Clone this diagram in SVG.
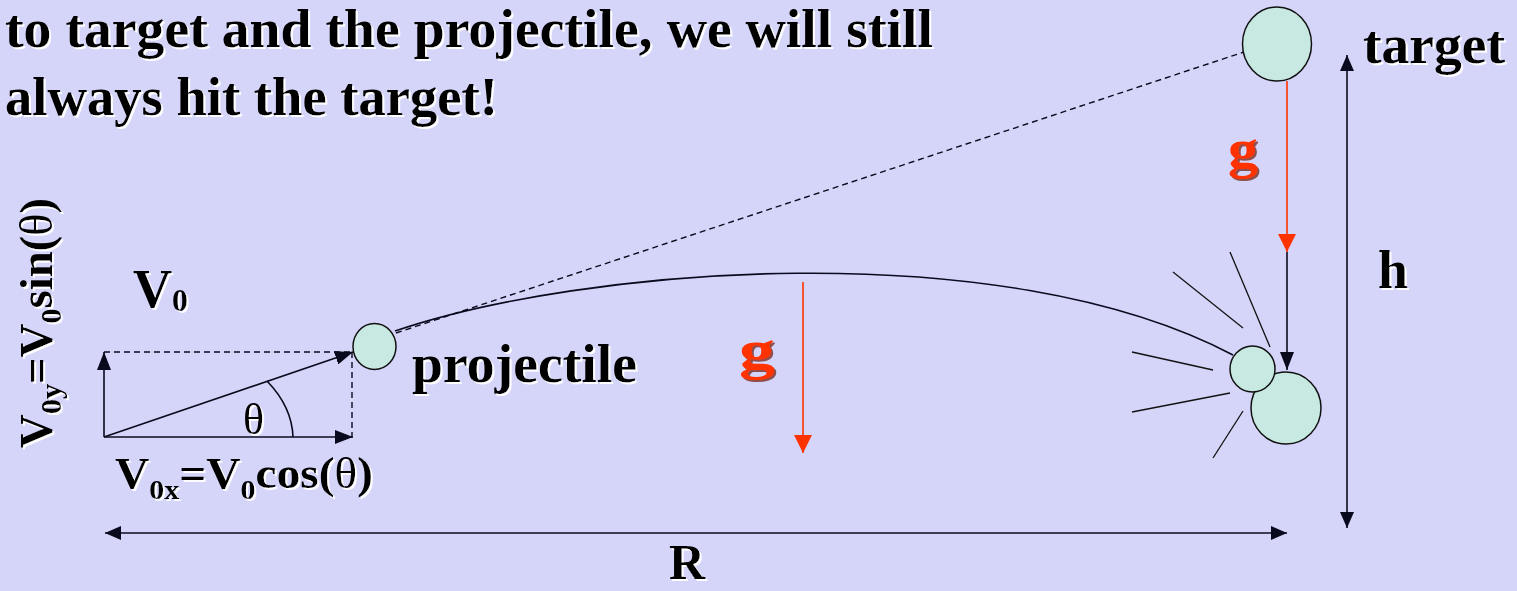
<svg xmlns="http://www.w3.org/2000/svg" width="1517" height="591" viewBox="0 0 1517 591">
<defs>
<style>
.t{font-family:"Liberation Serif","Times New Roman",serif;font-weight:bold;fill:#000}
.g{font-family:"Liberation Serif","Times New Roman",serif;font-weight:bold;fill:#FF3300;font-size:54px}
.ln{stroke:#0a0a1e;stroke-width:1.6;fill:none}
.dash{stroke:#0a0a1e;stroke-width:1.4;fill:none;stroke-dasharray:6 4}
.red{stroke:#FF3300;stroke-width:1.6;fill:none}
.ball{fill:#C8E8E2;stroke:#111;stroke-width:1.5}
.burst{stroke:#111;stroke-width:1.3}
</style>
<filter id="sh" x="-10%" y="-10%" width="130%" height="140%">
<feDropShadow dx="2" dy="2" stdDeviation="0.6" flood-color="#ffffff" flood-opacity="0.95"/>
</filter>
<filter id="shr" x="-10%" y="-10%" width="140%" height="140%">
<feDropShadow dx="2" dy="2" stdDeviation="0.6" flood-color="#7a2a20" flood-opacity="0.8"/>
</filter>
<marker id="ah" viewBox="0 0 18 14" refX="18" refY="7" markerWidth="18" markerHeight="14" markerUnits="userSpaceOnUse" orient="auto-start-reverse">
<path d="M0,0 L18,7 L0,14 z" fill="#0a0a1e"/>
</marker>
<marker id="ahs" viewBox="0 0 16 14" refX="16" refY="7" markerWidth="16" markerHeight="14" markerUnits="userSpaceOnUse" orient="auto-start-reverse">
<path d="M0,0 L16,7 L0,14 z" fill="#0a0a1e"/>
</marker>
<marker id="ahr" viewBox="0 0 18 18" refX="18" refY="9" markerWidth="18" markerHeight="18" markerUnits="userSpaceOnUse" orient="auto">
<path d="M0,0 L18,9 L0,18 z" fill="#FF3300"/>
</marker>
</defs>
<rect width="1517" height="591" fill="#D5D5F9"/>

<g id="title" class="t" font-size="54" filter="url(#sh)">
<text x="5" y="47" textLength="928" lengthAdjust="spacingAndGlyphs">to target and the projectile, we will still</text>
<text x="5" y="115" textLength="493" lengthAdjust="spacingAndGlyphs">always hit the target!</text>
</g>

<g id="connectors">
<line class="dash" x1="396" y1="333" x2="1244" y2="52" stroke-dasharray="4 3" stroke-width="1.2"/>
<path class="ln" d="M395 331 C580 268 1000 232 1233 355" stroke-width="1.5"/>
<line class="dash" x1="104" y1="352" x2="350" y2="352"/>
<line class="dash" x1="352" y1="352" x2="352" y2="437"/>
<line class="ln" x1="104" y1="437" x2="353" y2="437" marker-end="url(#ah)"/>
<line class="ln" x1="104" y1="437" x2="104" y2="352" marker-end="url(#ah)"/>
<line class="ln" x1="104" y1="437" x2="353" y2="352" marker-end="url(#ah)"/>
<path class="ln" d="M267 381 A189 115 0 0 1 293 437" stroke-width="1.3"/>
<line class="red" x1="803" y1="282" x2="803" y2="453" marker-end="url(#ahr)"/>
<line class="red" x1="1287" y1="81" x2="1287" y2="252" marker-end="url(#ahr)"/>
<line class="ln" x1="1287" y1="252" x2="1287" y2="370" marker-end="url(#ah)"/>
<line class="ln" x1="105" y1="533" x2="1287" y2="533" marker-start="url(#ahs)" marker-end="url(#ahs)"/>
<line class="ln" x1="1347" y1="55" x2="1347" y2="528" marker-start="url(#ahs)" marker-end="url(#ahs)"/>
<g class="burst">
<line x1="1230" y1="252" x2="1270" y2="347"/>
<line x1="1173" y1="272" x2="1243" y2="328"/>
<line x1="1132" y1="352" x2="1213" y2="370"/>
<line x1="1132" y1="412" x2="1230" y2="393"/>
<line x1="1243" y1="411" x2="1213" y2="458"/>
</g>
</g>

<g id="projectile">
<ellipse class="ball" cx="374.5" cy="346.5" rx="21.5" ry="23"/>
<text class="t" x="412" y="382" font-size="54" textLength="225" lengthAdjust="spacingAndGlyphs" filter="url(#sh)">projectile</text>
</g>

<g id="target">
<ellipse class="ball" cx="1277" cy="44" rx="34.5" ry="37"/>
<text class="t" x="1363" y="63" font-size="54" textLength="142" lengthAdjust="spacingAndGlyphs" filter="url(#sh)">target</text>
</g>

<g id="collision">
<ellipse class="ball" cx="1286" cy="408" rx="35" ry="36"/>
<ellipse class="ball" cx="1252.5" cy="369" rx="22.5" ry="23"/>
</g>

<g id="labels" filter="url(#sh)">
<text class="t" x="133" y="307" font-size="54">V<tspan font-size="32" dy="4">0</tspan></text>
<text class="t" x="115" y="488" font-size="44" textLength="258" lengthAdjust="spacingAndGlyphs">V<tspan font-size="28" dy="11">0x</tspan><tspan dy="-11">=V</tspan><tspan font-size="28" dy="11">0</tspan><tspan dy="-11">cos(</tspan><tspan font-weight="normal">θ</tspan>)</text>
<text class="t" transform="translate(52,448) rotate(-90)" x="0" y="0" font-size="46" textLength="250" lengthAdjust="spacingAndGlyphs">V<tspan font-size="30" dy="9">0y</tspan><tspan dy="-9">=V</tspan><tspan font-size="30" dy="9">0</tspan><tspan dy="-9">sin(</tspan><tspan font-weight="normal">θ</tspan>)</text>
<text x="243" y="434" font-size="44" font-family="Liberation Serif, Times New Roman, serif" fill="#000">θ</text>
<text class="t" x="1378" y="288" font-size="54">h</text>
<text class="t" x="669" y="579" font-size="50">R</text>
</g>

<g id="gravity-labels" filter="url(#shr)">
<text class="g" x="739" y="368" textLength="36" lengthAdjust="spacingAndGlyphs">g</text>
<text class="g" x="1228" y="167" textLength="30" lengthAdjust="spacingAndGlyphs">g</text>
</g>
</svg>
